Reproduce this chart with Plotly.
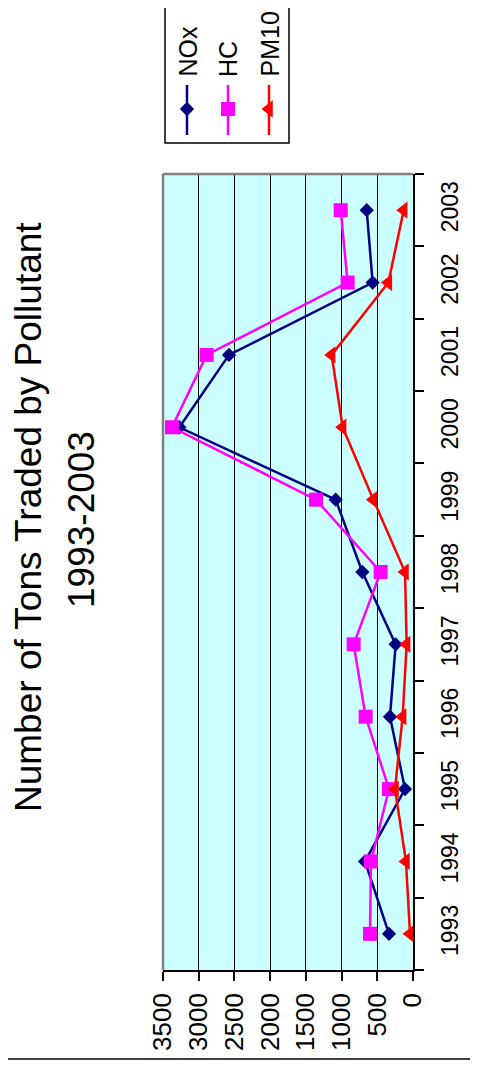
import plotly.graph_objects as go

W, H = 478, 1065
OFF = 8  # page body margin offset

years = ["1993", "1994", "1995", "1996", "1997", "1998", "1999", "2000", "2001", "2002", "2003"]
nox = [336, 672, 112, 322, 243, 709, 1083, 3271, 2576, 565, 648]
hc = [602, 588, 336, 663, 831, 453, 1358, 3374, 2889, 915, 1012]
pm10 = [42, 98, 252, 145, 89, 112, 555, 985, 1139, 345, 130]
value_ticks = [0, 500, 1000, 1500, 2000, 2500, 3000, 3500]

series_names = ["NOx", "HC", "PM10"]
colors = ["#000080", "#FF00FF", "#FF0000"]
symbols = ["diamond", "square", "triangle-left"]
msizes = [11, 14, 15]

FONT = "Arial, Liberation Sans, sans-serif"


def px(x):
    return (x - OFF) / W


def py(y):
    return 1 - (y - OFF) / H


fig = go.Figure()

for name, vals, c, s, ms in zip(series_names, [nox, hc, pm10], colors, symbols, msizes):
    fig.add_trace(go.Scatter(
        x=vals, y=years, mode="lines+markers", name=name,
        line=dict(color=c, width=2.5),
        marker=dict(symbol=s, size=ms, color=c),
        xaxis="x", yaxis="y", showlegend=False,
    ))

# legend symbols (on an auxiliary pixel-unit axis)
leg_x = [187, 228, 269]
for lx, c, s, ms in zip(leg_x, colors, symbols, msizes):
    fig.add_trace(go.Scatter(
        x=[lx, lx], y=[85, 135], mode="lines",
        line=dict(color=c, width=2.5),
        xaxis="x2", yaxis="y2", showlegend=False, hoverinfo="skip",
    ))
    fig.add_trace(go.Scatter(
        x=[lx], y=[109], mode="markers",
        marker=dict(symbol=s, size=ms, color=c),
        xaxis="x2", yaxis="y2", showlegend=False, hoverinfo="skip",
    ))

fig.update_layout(
    width=W, height=H,
    margin=dict(l=0, r=0, t=0, b=0),
    paper_bgcolor="white",
    plot_bgcolor="#CCFFFF",
    font=dict(family=FONT, color="black"),
    xaxis=dict(
        domain=[px(163), px(413)], range=[3500, 0], autorange=False,
        tickmode="array", tickvals=value_ticks, ticktext=[str(v) for v in value_ticks],
        tickangle=-90, tickfont=dict(size=26, family=FONT),
        showgrid=True, gridcolor="black", gridwidth=1,
        zeroline=False, showline=True, linecolor="black", linewidth=1.5,
        ticks="outside", ticklen=9, tickcolor="black", tickwidth=1.5,
        ticklabelstandoff=2, automargin=False, anchor="y",
    ),
    yaxis=dict(
        domain=[py(970), py(174)], type="category",
        categoryorder="array", categoryarray=years,
        range=[-0.5, 10.5], autorange=False,
        side="right", tickangle=-90, tickfont=dict(size=23, family=FONT),
        showgrid=False, zeroline=False, showline=True, linecolor="black", linewidth=1.5,
        ticks="outside", ticklen=9, tickcolor="black", tickwidth=1.5, tickson="boundaries",
        ticklabelstandoff=16, automargin=False, anchor="x",
    ),
    xaxis2=dict(domain=[px(165), px(289)], range=[165, 289], visible=False, anchor="y2"),
    yaxis2=dict(domain=[py(143), py(OFF)], range=[143, OFF], visible=False, anchor="x2"),
    showlegend=False,
)

shapes = [
    # plot area grey border (left & top)
    dict(type="line", xref="paper", yref="paper", x0=px(163), x1=px(163), y0=py(970), y1=py(174),
         line=dict(color="#808080", width=2.5), layer="above"),
    dict(type="line", xref="paper", yref="paper", x0=px(163), x1=px(413), y0=py(174), y1=py(174),
         line=dict(color="#808080", width=2.5), layer="above"),
    # legend box (top edge lies off the page)
    dict(type="rect", xref="paper", yref="paper", x0=px(165), x1=px(289), y0=py(143), y1=py(-30),
         line=dict(color="black", width=1.5), fillcolor="white", layer="below"),
    # chart edge line at bottom
    dict(type="line", xref="paper", yref="paper", x0=-0.05, x1=1.05, y0=py(1059), y1=py(1059),
         line=dict(color="black", width=1.5)),
]
fig.update_layout(shapes=shapes)

annotations = [
    dict(text="Number of Tons Traded by Pollutant", x=px(28), y=py(517), xref="paper", yref="paper",
         textangle=-90, showarrow=False, xanchor="center", yanchor="middle",
         font=dict(size=37, family=FONT, color="black")),
    dict(text="1993-2003", x=px(81), y=py(520), xref="paper", yref="paper",
         textangle=-90, showarrow=False, xanchor="center", yanchor="middle",
         font=dict(size=37, family=FONT, color="black")),
]
for lx, name in zip(leg_x, series_names):
    annotations.append(dict(
        text=name, x=lx, y=78, xref="x2", yref="y2", textangle=-90, showarrow=False,
        xanchor="center", yanchor="bottom", borderpad=0,
        font=dict(size=25, family=FONT, color="black")))
fig.update_layout(annotations=annotations)

fig.write_html("out.html")
